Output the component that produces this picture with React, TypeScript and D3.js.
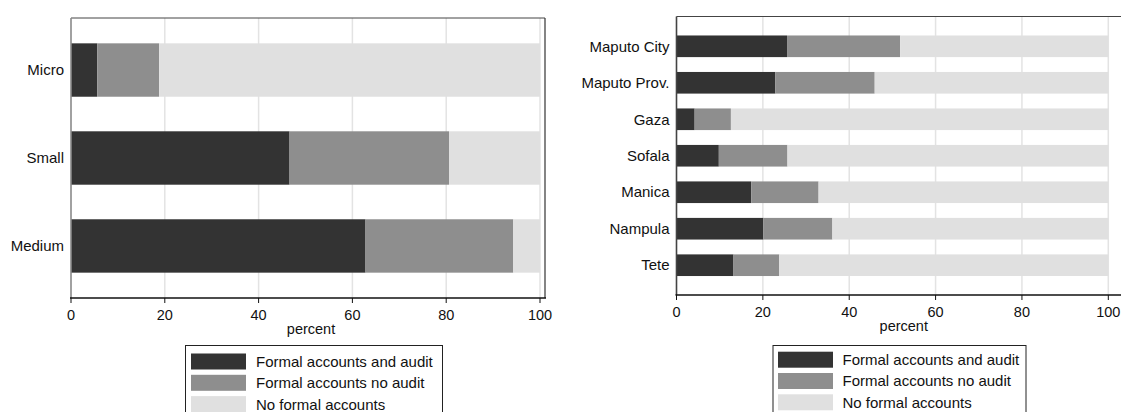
import * as d3 from "d3";

// series shared by both panels
const seriesNames = ["Formal accounts and audit", "Formal accounts no audit", "No formal accounts"];
const seriesColors = ["#333333", "#8e8e8e", "#e0e0e0"];

// left panel: firm size
const sizeCats = ["Micro", "Small", "Medium"];
const sizeAudit = [5.6, 46.6, 62.8];
const sizeNoAudit = [13.2, 34.0, 31.5];
const sizeNone = [81.2, 19.4, 5.7];

// right panel: province
const provCats = ["Maputo City", "Maputo Prov.", "Gaza", "Sofala", "Manica", "Nampula", "Tete"];
const provAudit = [25.6, 22.9, 4.2, 9.8, 17.3, 20.1, 13.2];
const provNoAudit = [26.2, 23.0, 8.4, 15.9, 15.6, 16.0, 10.6];
const provNone = [48.2, 54.1, 87.4, 74.3, 67.1, 63.9, 76.2];

const xTicks = [0, 20, 40, 60, 80, 100];
const FONT = "'Liberation Sans', Arial, sans-serif";

type PanelProps = {
  cats: string[];
  values: number[][];
  x0: number;
  x100: number;
  frameRight: number;
  top: number;
  bottom: number;
  padInner: number;
  padOuter: number;
  yAxisColor: string;
  legend: { x: number; y: number; w: number; swX: number; swY: number; textX: number };
};

function Panel(p: PanelProps) {
  const x = d3.scaleLinear().domain([0, 100]).range([p.x0, p.x100]);
  const y = d3
    .scaleBand<string>()
    .domain(p.cats)
    .range([p.top, p.bottom])
    .paddingInner(p.padInner)
    .paddingOuter(p.padOuter);

  const rows = p.cats.map((c, i) => {
    const r: Record<string, any> = { cat: c };
    seriesNames.forEach((s, k) => (r[s] = p.values[k][i]));
    return r;
  });
  const stacked = d3.stack<Record<string, any>>().keys(seriesNames)(rows);
  const midX = (p.x0 + p.frameRight) / 2 + 3;

  return (
    <g fontFamily={FONT} fill="#111">
      {xTicks.slice(1).map((t) => (
        <line key={t} x1={x(t)} x2={x(t)} y1={p.top} y2={p.bottom} stroke="#e3e3e3" strokeWidth={1.5} />
      ))}
      {stacked.map((layer, k) => (
        <g key={layer.key}>
          {layer.map((d) => (
            <rect
              key={d.data.cat}
              x={x(d[0])}
              y={y(d.data.cat)}
              width={x(d[1]) - x(d[0])}
              height={y.bandwidth()}
              fill={seriesColors[k]}
            />
          ))}
        </g>
      ))}
      <line x1={p.x0} x2={p.frameRight} y1={p.top} y2={p.top} stroke="#444" strokeWidth={1} />
      <line x1={p.frameRight} x2={p.frameRight} y1={p.top} y2={p.bottom} stroke="#333" strokeWidth={1.2} />
      <line x1={p.x0} x2={p.x0} y1={p.top} y2={p.bottom} stroke={p.yAxisColor} strokeWidth={1.6} />
      <line x1={p.x0 - 1} x2={p.frameRight + 1} y1={p.bottom} y2={p.bottom} stroke="#111" strokeWidth={1.6} />
      {xTicks.map((t) => (
        <g key={t}>
          <line x1={x(t)} x2={x(t)} y1={p.bottom} y2={p.bottom + 5} stroke="#111" strokeWidth={1} />
          <text x={x(t)} y={p.bottom + 22} textAnchor="middle" fontSize={14.5}>
            {t}
          </text>
        </g>
      ))}
      <text x={midX} y={p.bottom + 36} textAnchor="middle" fontSize={14.5}>
        percent
      </text>
      {p.cats.map((c) => (
        <text
          key={c}
          x={p.x0 - 7}
          y={(y(c) as number) + y.bandwidth() / 2}
          dy="0.35em"
          textAnchor="end"
          fontSize={15}
        >
          {c}
        </text>
      ))}
      <rect x={p.legend.x} y={p.legend.y} width={p.legend.w} height={80} fill="#fff" stroke="#222" strokeWidth={1} />
      {seriesNames.map((s, k) => (
        <g key={s}>
          <rect x={p.legend.swX} y={p.legend.swY + k * 21.3} width={55} height={16} fill={seriesColors[k]} />
          <text x={p.legend.textX} y={p.legend.swY + k * 21.3 + 8} dy="0.36em" fontSize={15}>
            {s}
          </text>
        </g>
      ))}
    </g>
  );
}

export default function App() {
  return (
    <svg
      width={1121}
      height={412}
      style={{ position: "absolute", left: 0, top: 0, background: "#fff" }}
    >
      <rect width={1121} height={412} fill="#fff" />
      <Panel
        cats={sizeCats}
        values={[sizeAudit, sizeNoAudit, sizeNone]}
        x0={71}
        x100={540}
        frameRight={545}
        top={18}
        bottom={298}
        padInner={0.393}
        padOuter={0.288}
        yAxisColor="#8a8a8a"
        legend={{ x: 185.5, y: 345.5, w: 257, swX: 191, swY: 353.5, textX: 256 }}
      />
      <Panel
        cats={provCats}
        values={[provAudit, provNoAudit, provNone]}
        x0={676.5}
        x100={1108.3}
        frameRight={1125}
        top={16.5}
        bottom={295}
        padInner={0.407}
        padOuter={0.52}
        yAxisColor="#444"
        legend={{ x: 773, y: 345.5, w: 253, swX: 778, swY: 351.7, textX: 842.5 }}
      />
    </svg>
  );
}
